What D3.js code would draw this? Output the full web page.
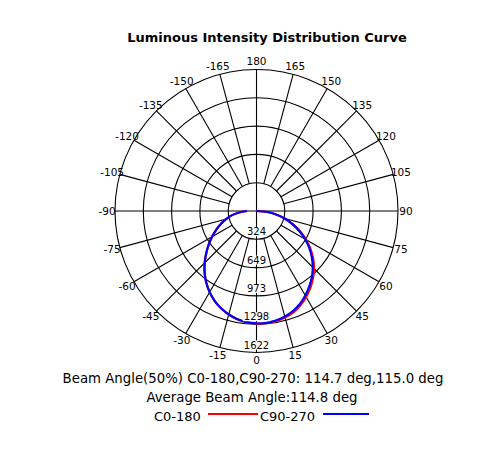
<!DOCTYPE html>
<html><head><meta charset="utf-8">
<script src="https://cdn.jsdelivr.net/npm/d3@7"></script>
<style>body{margin:0;background:#fff}svg{display:block}</style>
</head><body>
<svg id="c" width="500" height="450"></svg>
<script>
// ---- data ----
const title = "Luminous Intensity Distribution Curve";
const angleTicks = [180,165,150,135,120,105,90,75,60,45,30,15,0,-15,-30,-45,-60,-75,-90,-105,-120,-135,-150,-165];
const ringValues = [324.4, 648.8, 973.2, 1297.6, 1622];
const ringLabels = ["324","649","973","1298","1622"];
const maxValue = 1622;
const curveAngles = [-90,-85,-80,-75,-70,-65,-60,-55,-50,-45,-40,-35,-30,-25,-20,-15,-10,-5,0,5,10,15,20,25,30,35,40,45,50,55,60,65,70,75,80,85,90];
const c0_180  = [114,202,290,362,435,510,588,668,752,840,925,1003,1074,1136,1187,1228,1259,1279,1291,1290,1282,1265,1236,1193,1138,1076,1008,932,848,755,655,550,443,336,229,126,0];
const c90_270 = [110,200,290,362,435,510,588,668,752,840,925,1003,1074,1136,1187,1228,1259,1279,1289,1287,1275,1253,1220,1175,1118,1055,988,912,829,738,642,541,438,334,229,127,0];
const seriesNames = ["C0-180","C90-270"];
const seriesColors = ["#ff0000","#0000ff"];
const infoLine1 = "Beam Angle(50%) C0-180,C90-270: 114.7 deg,115.0 deg";
const infoLine2 = "Average Beam Angle:114.8 deg";

// ---- layout ----
const svg = d3.select("#c");
const cx = 256.5, cy = 211, R = 141.5;
const font = "'DejaVu Sans', Verdana, sans-serif";
const r = d3.scaleLinear().domain([0, maxValue]).range([0, R]);
const rad = d => d * Math.PI / 180;
const g = svg.append("g").attr("transform", `translate(${cx},${cy})`);
const gridColor = "#000";

// rings
g.selectAll("circle.ring").data(ringValues).join("circle")
  .attr("r", d => r(d)).attr("fill", "none").attr("stroke", gridColor).attr("stroke-width", 1.1);

// spokes
const spokeAngles = d3.range(-165, 181, 15);
g.selectAll("line.spoke").data(spokeAngles).join("line")
  .attr("x1", d => (d % 90 === 0 ? 0 : r(ringValues[0])) * Math.sin(rad(d)))
  .attr("y1", d => (d % 90 === 0 ? 0 : r(ringValues[0])) * Math.cos(rad(d)))
  .attr("x2", d => R * Math.sin(rad(d)))
  .attr("y2", d => R * Math.cos(rad(d)))
  .attr("stroke", gridColor).attr("stroke-width", 1.1);

// curves
const line = d3.lineRadial().curve(d3.curveCatmullRom)
  .angle(d => Math.PI - rad(d[0])).radius(d => r(d[1]));
[c0_180, c90_270].forEach((vals, i) => {
  g.append("path").datum(curveAngles.map((a, j) => [a, vals[j]]))
    .attr("d", line).attr("fill", "none")
    .attr("stroke", seriesColors[i]).attr("stroke-width", 2.2);
});

// ring labels with white background
ringValues.forEach((v, i) => {
  const t = g.append("text").attr("x", 0).attr("y", r(v) - 4)
    .attr("text-anchor", "middle").attr("font-family", font).attr("font-size", 10)
    .attr("fill", "#000").text(ringLabels[i]);
  const b = t.node().getBBox();
  g.insert("rect", () => t.node()).attr("x", b.x - 1).attr("y", b.y + 1)
    .attr("width", b.width + 2).attr("height", b.height - 2).attr("fill", "#fff");
});

// angle labels
g.selectAll("text.ang").data(angleTicks).join("text")
  .attr("x", d => (R + 8) * Math.sin(rad(d)))
  .attr("y", d => (R + 8) * Math.cos(rad(d)))
  .attr("dy", "0.36em").attr("text-anchor", "middle")
  .attr("font-family", font).attr("font-size", 10.5).attr("fill", "#000")
  .text(d => d);

// title
svg.append("text").attr("x", 267).attr("y", 42).attr("text-anchor", "middle")
  .attr("font-family", font).attr("font-weight", "bold").attr("font-size", 13)
  .attr("fill", "#000").text(title);

// info text
svg.append("text").attr("x", 253).attr("y", 383).attr("text-anchor", "middle")
  .attr("font-family", font).attr("font-size", 13.3).attr("fill", "#000").text(infoLine1);
svg.append("text").attr("x", 252).attr("y", 402).attr("text-anchor", "middle")
  .attr("font-family", font).attr("font-size", 13.3).attr("fill", "#000").text(infoLine2);

// legend
const legX = [154, 260], lineX = [[208, 258], [323, 369]];
seriesNames.forEach((n, i) => {
  svg.append("text").attr("x", legX[i]).attr("y", 420.5)
    .attr("font-family", font).attr("font-size", 13).attr("fill", "#000").text(n);
  svg.append("line").attr("x1", lineX[i][0]).attr("x2", lineX[i][1])
    .attr("y1", 414).attr("y2", 414).attr("stroke", seriesColors[i]).attr("stroke-width", 2);
});
</script>
</body></html>
